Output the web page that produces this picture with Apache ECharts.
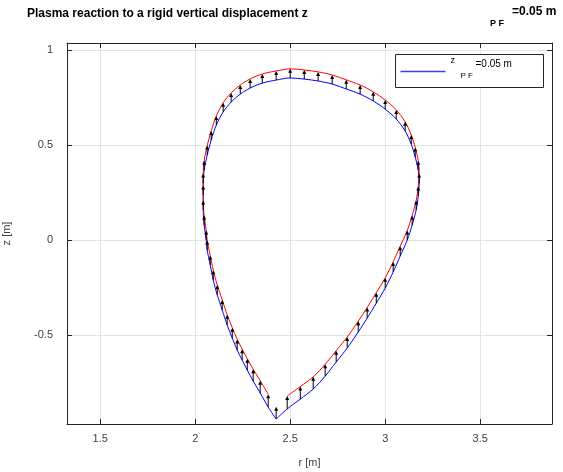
<!DOCTYPE html>
<html>
<head>
<meta charset="utf-8">
<script src="https://cdn.jsdelivr.net/npm/echarts@6/dist/echarts.min.js"></script>
<style>
  html, body { margin: 0; padding: 0; background: #fff; }
  #chart { width: 563px; height: 472px; }
</style>
</head>
<body>
<div id="chart"></div>
<script>
/* Plasma boundary (blue), traced from the X-point up the inner leg, over the top and back */
const boundaryR = [
  2.426, 2.384, 2.342, 2.305, 2.274, 2.247, 2.221, 2.195, 2.168, 2.142,
  2.116, 2.095, 2.079, 2.063, 2.058, 2.047, 2.042, 2.042, 2.042, 2.047,
  2.063, 2.084, 2.111, 2.147, 2.189, 2.237, 2.289, 2.353, 2.426, 2.500,
  2.574, 2.647, 2.721, 2.795, 2.868, 2.937, 3.000, 3.058, 3.105, 3.137,
  3.158, 3.174, 3.179, 3.174, 3.163, 3.142, 3.116, 3.079, 3.042, 3.000,
  2.953, 2.905, 2.858, 2.800, 2.742, 2.684, 2.621, 2.553, 2.484, 2.426
];
const boundaryZ = [
  -0.942, -0.879, -0.805, -0.742, -0.684, -0.632, -0.579, -0.516, -0.447, -0.368,
  -0.289, -0.211, -0.132, -0.053, 0.000, 0.079, 0.158, 0.237, 0.300, 0.368,
  0.447, 0.526, 0.605, 0.674, 0.726, 0.768, 0.800, 0.826, 0.842, 0.853,
  0.847, 0.837, 0.821, 0.795, 0.768, 0.732, 0.689, 0.637, 0.574, 0.505,
  0.437, 0.368, 0.300, 0.232, 0.158, 0.079, 0.000, -0.084, -0.168, -0.253,
  -0.332, -0.411, -0.484, -0.568, -0.642, -0.716, -0.784, -0.837, -0.889, -0.942
];
/* Displaced boundary (red): z of each point after the reaction, same r */
const displacedZ = [
  -0.877, -0.811, -0.740, -0.680, -0.624, -0.574, -0.523, -0.461, -0.393, -0.315,
  -0.237, -0.159, -0.081, -0.002, 0.050, 0.129, 0.208, 0.287, 0.350, 0.418,
  0.497, 0.574, 0.653, 0.722, 0.774, 0.816, 0.848, 0.874, 0.890, 0.901,
  0.895, 0.885, 0.869, 0.843, 0.816, 0.780, 0.737, 0.685, 0.622, 0.553,
  0.487, 0.418, 0.350, 0.282, 0.208, 0.129, 0.050, -0.032, -0.115, -0.199,
  -0.277, -0.355, -0.427, -0.510, -0.582, -0.654, -0.720, -0.771, -0.821, -0.877
];
/* red curve is not drawn next to the X-point */
const redFirst = 1;
const redLast = 58;

const xTicks = [1.5, 2, 2.5, 3, 3.5];
const yTicks = [-0.5, 0, 0.5, 1];

const fontFamily = 'Arial, "Liberation Sans", Helvetica, sans-serif';
const axisColor = '#262626';
const labelColor = '#404040';

/* ------------------------------------------------------------------ */

const bluePts = boundaryR.map((r, i) => [r, boundaryZ[i]]);
const redPts = [];
for (let i = redFirst; i <= redLast; i++) redPts.push([boundaryR[i], displacedZ[i]]);
const arrowPts = [];
for (let i = 0; i < boundaryR.length - 1; i++) {
  arrowPts.push([boundaryR[i], boundaryZ[i], displacedZ[i]]);
}

function renderArrow(params, api) {
  const p0 = api.coord([api.value(0), api.value(1)]);
  const p1 = api.coord([api.value(0), api.value(2)]);
  const len = p0[1] - p1[1];
  const head = Math.min(4, len * 0.45);
  const hw = 2;
  return {
    type: 'group',
    children: [
      {
        type: 'line',
        shape: { x1: p0[0], y1: p0[1], x2: p1[0], y2: p1[1] + head * 0.6 },
        style: { stroke: '#000', lineWidth: 1 }
      },
      {
        type: 'polygon',
        shape: { points: [[p1[0], p1[1]], [p1[0] - hw, p1[1] + head], [p1[0] + hw, p1[1] + head]] },
        style: { fill: '#000' }
      }
    ]
  };
}

const xBase = {
  type: 'value', min: 1.325, max: 3.878,
  axisLine: { show: true, onZero: false, lineStyle: { color: axisColor, width: 1 } },
  axisTick: { show: true, inside: true, length: 5, customValues: xTicks, lineStyle: { color: axisColor } }
};
const yBase = {
  type: 'value', min: -0.968, max: 1.037,
  axisLine: { show: true, onZero: false, lineStyle: { color: axisColor, width: 1 } },
  axisTick: { show: true, inside: true, length: 5, customValues: yTicks, lineStyle: { color: axisColor } }
};

const chart = echarts.init(document.getElementById('chart'), null, { renderer: 'canvas' });
chart.setOption({
  animation: false,
  backgroundColor: '#fff',
  textStyle: { fontFamily },
  title: {
    text: 'Plasma reaction to a rigid vertical displacement z',
    left: 22, top: 3,
    textStyle: { fontSize: 12, fontWeight: 'bold', color: '#000', fontFamily }
  },
  grid: { left: 67, top: 43, right: 11, bottom: 48, containLabel: false, outerBoundsMode: 'none' },
  xAxis: [
    Object.assign({}, xBase, {
      position: 'bottom',
      name: 'r [m]', nameLocation: 'middle', nameGap: 33,
      nameTextStyle: { color: labelColor, fontSize: 11, fontFamily },
      axisLabel: { show: true, customValues: xTicks, color: labelColor, fontSize: 11, margin: 9, fontFamily },
      splitLine: { show: true, lineStyle: { color: '#e3e3e3', width: 1 } }
    }),
    Object.assign({}, xBase, {
      position: 'top',
      axisLabel: { show: false },
      splitLine: { show: false }
    })
  ],
  yAxis: [
    Object.assign({}, yBase, {
      position: 'left',
      name: 'z [m]', nameLocation: 'middle', nameGap: 55, nameRotate: 90,
      nameTextStyle: { color: labelColor, fontSize: 11, fontFamily },
      axisLabel: { show: true, customValues: yTicks, color: labelColor, fontSize: 11, margin: 14, fontFamily },
      splitLine: { show: true, lineStyle: { color: '#e3e3e3', width: 1 } }
    }),
    Object.assign({}, yBase, {
      position: 'right',
      axisLabel: { show: false },
      splitLine: { show: false }
    })
  ],
  graphic: [
    {
      type: 'text', left: 490, top: 19,
      style: { text: 'P F', font: 'bold 9px ' + fontFamily, fill: '#000' }
    },
    {
      type: 'text', left: 512, top: 6,
      style: { text: '=0.05 m', font: 'bold 12px ' + fontFamily, fill: '#000' }
    },
    {
      type: 'group', left: 395, top: 54, z: 100,
      children: [
        { type: 'rect', z: 100, shape: { x: 0, y: 0, width: 148, height: 33 },
          style: { fill: '#fff', stroke: axisColor, lineWidth: 1 } },
        { type: 'line', z: 101, shape: { x1: 5, y1: 17, x2: 50, y2: 17 },
          style: { stroke: 'rgb(60, 60, 255)', lineWidth: 1.5, fill: null } },
        { type: 'text', z: 101, x: 55, y: 2, style: { text: 'z', font: '9px ' + fontFamily, fill: '#000' } },
        { type: 'text', z: 101, x: 65, y: 17, style: { text: 'P F', font: '8px ' + fontFamily, fill: '#000' } },
        { type: 'text', z: 101, x: 80, y: 5, style: { text: '=0.05 m', font: '10px ' + fontFamily, fill: '#000' } }
      ]
    }
  ],
  series: [
    {
      type: 'custom',
      name: 'arrows',
      renderItem: renderArrow,
      data: arrowPts,
      encode: { x: 0, y: [1, 2] },
      z: 3
    },
    {
      type: 'line',
      name: 'boundary',
      data: bluePts,
      symbol: 'none',
      smooth: 0.3,
      lineStyle: { color: '#0000ff', width: 1 },
      z: 2
    },
    {
      type: 'line',
      name: 'displaced',
      data: redPts,
      symbol: 'none',
      smooth: 0.3,
      lineStyle: { color: '#ff0000', width: 1 },
      z: 2
    }
  ]
});
</script>
</body>
</html>
